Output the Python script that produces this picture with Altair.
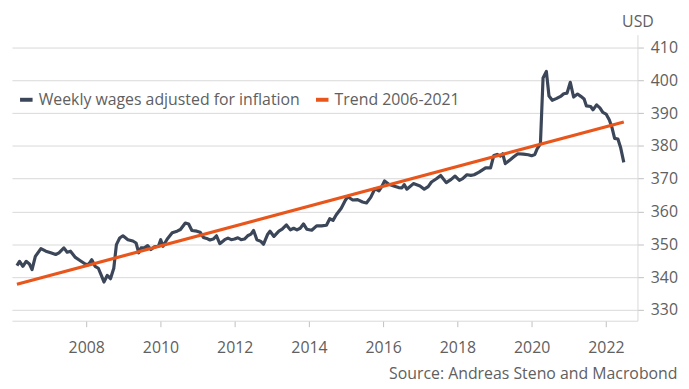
import altair as alt
import pandas as pd

# Weekly wages adjusted for inflation (decimal year, USD)
wage_years = [
    2006.134, 2006.205, 2006.294, 2006.382, 2006.471, 2006.541, 2006.630, 2006.780, 2006.913,
    2007.045, 2007.178, 2007.266, 2007.399, 2007.487, 2007.576, 2007.708, 2007.841, 2007.974,
    2008.062, 2008.150, 2008.239, 2008.327, 2008.416, 2008.478, 2008.566, 2008.654, 2008.743,
    2008.814, 2008.902, 2008.990, 2009.123, 2009.256, 2009.344, 2009.415, 2009.477, 2009.565,
    2009.654, 2009.742, 2009.830, 2009.945, 2010.007, 2010.069, 2010.184, 2010.317, 2010.449,
    2010.538, 2010.670, 2010.759, 2010.847, 2010.980, 2011.068, 2011.157, 2011.245, 2011.334,
    2011.422, 2011.510, 2011.599, 2011.731, 2011.820, 2011.908, 2011.997, 2012.085, 2012.173,
    2012.262, 2012.350, 2012.439, 2012.509, 2012.598, 2012.704, 2012.775, 2012.881, 2012.952,
    2013.058, 2013.190, 2013.279, 2013.394, 2013.500, 2013.588, 2013.677, 2013.765, 2013.853,
    2013.942, 2014.075, 2014.207, 2014.340, 2014.472, 2014.561, 2014.649, 2014.737, 2014.870,
    2014.985, 2015.046, 2015.179, 2015.312, 2015.444, 2015.550, 2015.665, 2015.780, 2015.886,
    2015.957, 2016.037, 2016.152, 2016.284, 2016.417, 2016.505, 2016.567, 2016.638, 2016.815,
    2016.992, 2017.107, 2017.213, 2017.301, 2017.434, 2017.549, 2017.699, 2017.832, 2017.938,
    2018.053, 2018.141, 2018.256, 2018.362, 2018.451, 2018.583, 2018.760, 2018.893, 2018.981,
    2019.069, 2019.158, 2019.220, 2019.290, 2019.423, 2019.511, 2019.626, 2019.777, 2019.909,
    2019.998, 2020.086, 2020.148, 2020.236, 2020.307, 2020.396, 2020.467, 2020.555, 2020.661,
    2020.794, 2020.864, 2020.953, 2021.041, 2021.130, 2021.236, 2021.324, 2021.413, 2021.475,
    2021.590, 2021.652, 2021.749, 2021.838, 2021.917, 2022.005, 2022.093, 2022.164, 2022.235,
    2022.323, 2022.394, 2022.482,
]
wage_values = [
    343.5, 344.8, 343.3, 344.8, 344.0, 342.3, 346.3, 348.7, 347.9,
    347.4, 346.9, 347.4, 348.9, 347.6, 347.9, 346.0, 345.0, 344.0,
    343.8, 345.3, 343.3, 342.7, 340.3, 338.5, 340.5, 339.5, 342.7,
    349.9, 351.9, 352.6, 351.4, 351.0, 350.4, 347.4, 348.9, 348.9,
    349.6, 348.4, 349.2, 349.4, 351.4, 349.4, 351.6, 353.5, 354.0,
    354.5, 356.5, 356.2, 354.2, 354.0, 353.7, 352.1, 351.8, 351.3,
    351.6, 352.6, 350.2, 351.4, 351.9, 351.4, 351.6, 352.0, 351.4,
    351.6, 352.6, 353.1, 354.2, 351.4, 350.9, 350.0, 352.9, 354.0,
    352.4, 354.0, 354.6, 355.9, 354.4, 354.9, 354.4, 354.9, 356.2,
    354.6, 354.3, 355.6, 355.6, 355.8, 357.8, 357.3, 359.0, 361.0,
    363.5, 364.5, 363.5, 363.6, 362.9, 362.6, 364.3, 367.0, 366.3,
    367.5, 369.3, 368.3, 367.8, 367.3, 367.2, 368.2, 366.8, 368.5,
    367.8, 366.8, 367.6, 369.0, 370.0, 371.0, 368.8, 369.8, 370.8,
    369.5, 370.0, 371.2, 371.0, 371.2, 372.0, 373.3, 373.3, 377.1,
    377.4, 376.9, 377.6, 374.6, 375.8, 376.6, 377.6, 377.5, 377.3,
    377.0, 377.4, 379.1, 380.6, 400.7, 402.7, 395.2, 393.9, 394.4,
    395.2, 395.9, 396.1, 399.4, 394.9, 395.8, 395.1, 394.3, 392.2,
    392.0, 391.0, 392.5, 391.6, 390.2, 389.7, 387.9, 385.6, 382.3,
    382.1, 379.6, 375.0,
]

# Trend 2006-2021 (linear)
trend_years = [2006.134, 2022.482]
trend_values = [337.8, 387.3]

series_names = ["Weekly wages adjusted for inflation", "Trend 2006-2021"]
series_colors = ["#3b4659", "#e8561c"]

x_ticks = [2008, 2010, 2012, 2014, 2016, 2018, 2020, 2022]
y_ticks = [330, 340, 350, 360, 370, 380, 390, 400, 410]

df = pd.concat([
    pd.DataFrame({"year": wage_years, "value": wage_values, "series": series_names[0], "order": 0}),
    pd.DataFrame({"year": trend_years, "value": trend_values, "series": series_names[1], "order": 1}),
])

FONT = "Open Sans"
FS = 16
TXT = "#606060"
GRID = "#d9d9d9"

chart = alt.Chart(df).mark_line(strokeWidth=3.2, strokeJoin="round").encode(
    x=alt.X("year:Q",
            scale=alt.Scale(domain=[2006.0, 2022.85], nice=False, zero=False),
            axis=alt.Axis(values=x_ticks, format="d", title=None, grid=False,
                          domainColor=GRID, tickColor="#bfbfbf", tickSize=6,
                          labelFont=FONT, labelFontSize=FS, labelColor=TXT,
                          labelPadding=13)),
    y=alt.Y("value:Q",
            scale=alt.Scale(domain=[326.7, 413.9], nice=False, zero=False),
            axis=alt.Axis(orient="right", values=y_ticks, title="USD",
                          titleAngle=0, titleX=0, titleY=-13, titleAlign="center",
                          titleBaseline="middle", titleFont=FONT, titleFontSize=FS,
                          titleFontWeight="normal", titleColor=TXT,
                          grid=True, gridColor=GRID, domainColor=GRID,
                          tickColor="#bfbfbf", tickSize=6, labelPadding=7,
                          labelFont=FONT, labelFontSize=FS, labelColor=TXT)),
    color=alt.Color("series:N",
                    scale=alt.Scale(domain=series_names, range=series_colors),
                    legend=alt.Legend(title=None, orient="none", legendX=6, legendY=57,
                                      direction="horizontal", symbolType="stroke",
                                      symbolStrokeWidth=4, symbolSize=160,
                                      labelFont=FONT, labelFontSize=FS, labelColor=TXT,
                                      labelLimit=500, columnPadding=8, labelOffset=4)),
    order=alt.Order("order:Q"),
    detail="series:N",
).properties(
    width=632,
    height=289,
    padding={"left": 4, "top": 25, "right": 44, "bottom": 66},
    autosize=alt.AutoSizeParams(type="none"),
    title=alt.TitleParams("Source: Andreas Steno and Macrobond", orient="bottom",
                          anchor="end", font=FONT, fontSize=FS, fontWeight="normal",
                          color=TXT, offset=11),
).configure_view(stroke=None)

chart.save("out.html", embed_options={"renderer": "svg", "actions": False})
